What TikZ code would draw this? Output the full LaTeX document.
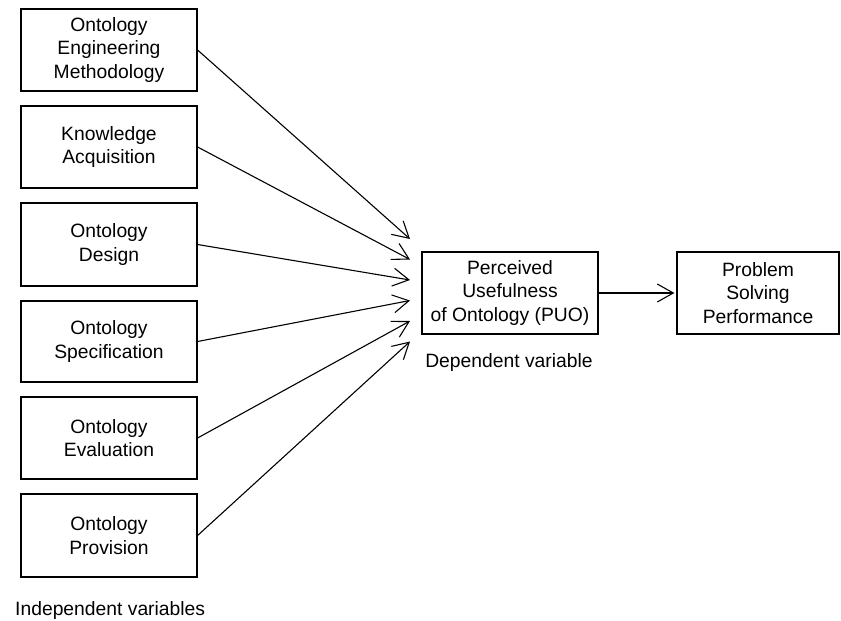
\documentclass[tikz,border=0pt]{standalone}
\usepackage{fontspec}
\setmainfont{Liberation Sans}
\usetikzlibrary{arrows.meta}
\begin{document}
\begin{tikzpicture}[x=1pt,y=-1pt,
  box/.style={draw,line width=1.2pt,inner sep=0pt,align=center,
    font=\fontsize{19.3}{23.5}\selectfont},
  lbl/.style={inner sep=0pt,font=\fontsize{19.3}{23.5}\selectfont},
  conn/.style={line width=1.1pt,-{Straight Barb[length=16pt,width=18pt,line width=1.1pt]}}]
\useasboundingbox (0,0) rectangle (841,621);
% left boxes
\node[box,minimum width=176pt,minimum height=82pt] (b1) at (109,50) {Ontology\\Engineering\\Methodology};
\node[box,minimum width=176pt,minimum height=82pt] (b2) at (109,147) {Knowledge\\Acquisition};
\node[box,minimum width=176pt,minimum height=83pt] (b3) at (109,244.5) {Ontology\\Design};
\node[box,minimum width=176pt,minimum height=81pt] (b4) at (109,341.5) {Ontology\\Specification};
\node[box,minimum width=176pt,minimum height=82pt] (b5) at (109,438) {Ontology\\Evaluation};
\node[box,minimum width=176pt,minimum height=83pt] (b6) at (109,535.5) {Ontology\\Provision};
% right boxes
\node[box,minimum width=176pt,minimum height=82pt] (puo) at (510,293) {Perceived\\Usefulness\\of Ontology (PUO)};
\node[box,minimum width=162pt,minimum height=82pt] (psp) at (758,293) {Problem\\Solving\\Performance};
% labels
\node[lbl,anchor=base west] (iv) at (15,615) {Independent variables};
\node[lbl,anchor=base] (dv) at (509,367) {Dependent variable};
% arrow tips
\coordinate (t1) at (410,239);
\coordinate (t2) at (410,259.5);
\coordinate (t3) at (410,280);
\coordinate (t4) at (410,300.5);
\coordinate (t5) at (410,321);
\coordinate (t6) at (410,341.5);
\draw[conn] (b1.east) -- (t1);
\draw[conn] (b2.east) -- (t2);
\draw[conn] (b3.east) -- (t3);
\draw[conn] (b4.east) -- (t4);
\draw[conn] (b5.east) -- (t5);
\draw[conn] (b6.east) -- (t6);
\draw[conn,shorten >=2pt] (puo.east) -- (psp.west);
\end{tikzpicture}
\end{document}
